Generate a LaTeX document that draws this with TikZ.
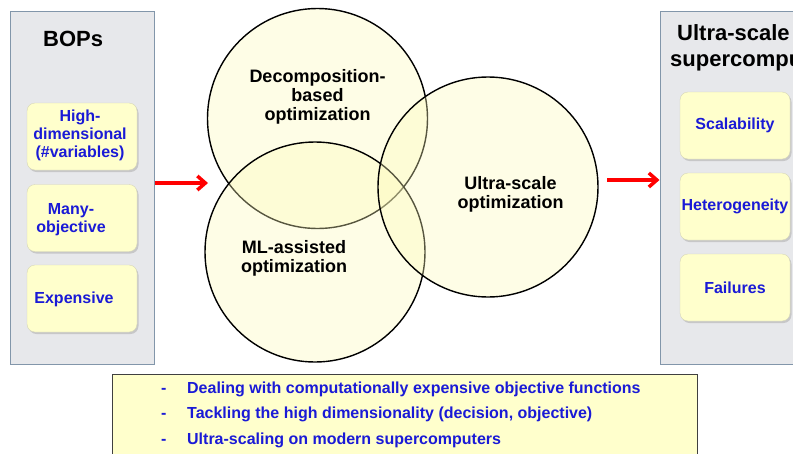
\documentclass[tikz,border=0pt]{standalone}
\usepackage{fontspec}
\setmainfont{Liberation Sans}
\usetikzlibrary{shadows,arrows.meta}
\definecolor{panelgray}{HTML}{E7E8EB}
\definecolor{panelline}{HTML}{8296AA}
\definecolor{boxyellow}{HTML}{FFFFCC}
\definecolor{boxline}{HTML}{D6D6B8}
\definecolor{textblue}{HTML}{1A1AD6}
\definecolor{circfill}{HTML}{FCF9B8}

\begin{document}
\begin{tikzpicture}[x=1pt, y=-1pt,
    panel/.style = {draw=panelline, fill=panelgray, line width=1pt, inner sep=0pt},
    item/.style = {draw=boxline, fill=boxyellow, rounded corners=8pt, inner sep=0pt,
      minimum width=110pt, minimum height=67pt, align=center, text=textblue,
      font=\bfseries\fontsize{16}{18}\selectfont,
      drop shadow={shadow xshift=1.5pt, shadow yshift=-2pt, fill=gray!60, opacity=0.6}},
    itemtext/.style = {align=center, text=textblue, inner sep=0pt,
      font=\bfseries\fontsize{16}{18}\selectfont},
    head/.style = {inner sep=0pt, font=\bfseries\fontsize{22}{26}\selectfont},
    venn/.style = {circle, draw=black, line width=1.4pt, fill=circfill, fill opacity=0.35,
      minimum size=220pt, inner sep=0pt},
    venntext/.style = {align=center, inner sep=0pt, font=\bfseries\fontsize{18}{19}\selectfont},
    redarrow/.style = {->, >={Straight Barb[length=8pt, width=14pt]}, red, line width=3.5pt},
    note/.style = {anchor=base west, inner sep=0pt, text=textblue,
      font=\bfseries\fontsize{16}{18}\selectfont}]
  \clip (0,0) rectangle (793,453);%picture size

  % left panel
  \node[panel, minimum width=144pt, minimum height=353pt] (bops) at (82,187.5) {};
  \node[head, anchor=base west] (bopshead) at (43,46.5) {BOPs};
  \node[item] (hd) at (82,136.5) {};
  \node[item] (mo) at (82,218) {};
  \node[item] (ex) at (82,298.5) {};
  \node[itemtext] (hdtext) at (80,135.5) {High-\\dimensional\\(\#variables)};
  \node[itemtext] (motext) at (71,220) {Many-\\objective};
  \node[itemtext] (extext) at (74,299) {Expensive};

  % right panel
  \node[panel, minimum width=150pt, minimum height=353pt] (usc) at (735,187.5) {};
  \node[head, anchor=base west] (uschead1) at (677,40.5) {Ultra-scale};
  \node[head, anchor=base west] (uschead2) at (670,66) {supercomputers};
  \node[item] (sc) at (735,125.5) {Scalability};
  \node[item] (he) at (735,206.5) {Heterogeneity};
  \node[item] (fa) at (735,287.5) {Failures};

  % venn
  \node[venn] (dec) at (317.5,118.5) {};
  \node[venn] (mla) at (315,252) {};
  \node[venn] (ult) at (488,187) {};
  \node[venntext] (dectext) at (317.5,97) {Decomposition-\\based\\optimization};
  \node[venntext] (ulttext) at (510.5,194) {Ultra-scale\\optimization};
  \node[venntext] (mlatext) at (294,258.5) {ML-assisted\\optimization};

  % arrows
  \coordinate (in) at (208,183);
  \coordinate (out) at (607,180);
  \draw[redarrow] (bops.east |- in) -- (in);
  \draw[redarrow] (out) -- (usc.west |- out);

  % bottom box
  \node[draw=black!75, fill=boxyellow, line width=1pt, anchor=north west, inner sep=0pt,
    minimum width=585pt, minimum height=100pt] (notes) at (112,374) {};
  \node[note] (n1) at (161,393.7) {\makebox[26pt][l]{-}Dealing with computationally expensive objective functions};
  \node[note] (n2) at (161,418.7) {\makebox[26pt][l]{-}Tackling the high dimensionality (decision, objective)};
  \node[note] (n3) at (161,444.7) {\makebox[26pt][l]{-}Ultra-scaling on modern supercomputers};
\end{tikzpicture}
\end{document}
